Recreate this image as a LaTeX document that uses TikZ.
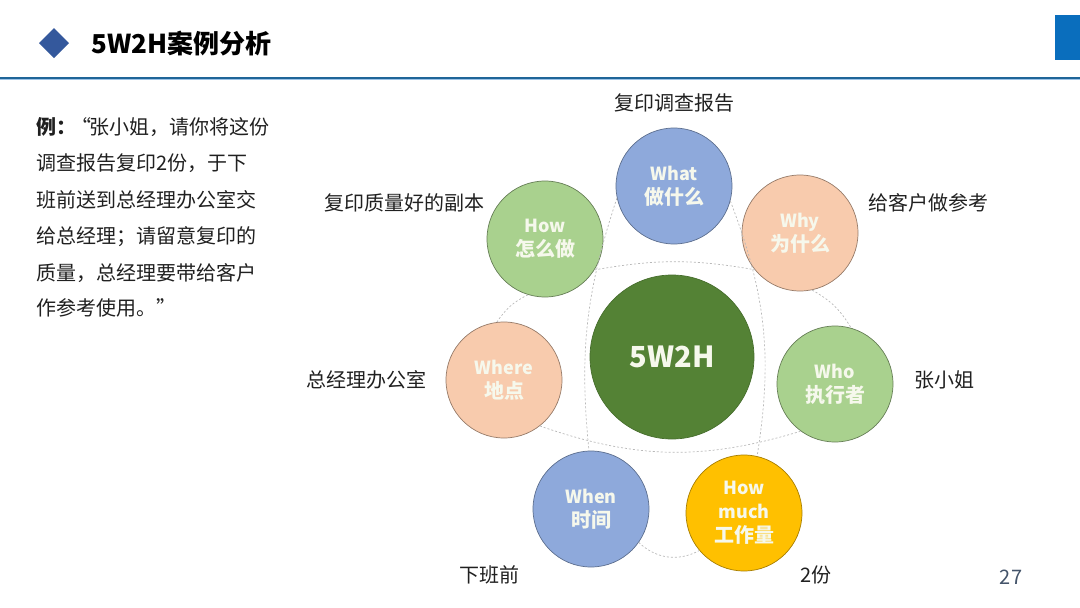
\documentclass[tikz,border=0pt]{standalone}
\usepackage{fontspec}
\setmainfont{Noto Sans CJK SC}
\definecolor{cblue}{HTML}{8EA9DB}
\definecolor{cgreen}{HTML}{A9D18E}
\definecolor{cpeach}{HTML}{F8CBAD}
\definecolor{cgold}{HTML}{FFC000}
\definecolor{cdark}{HTML}{548235}
\definecolor{dia}{HTML}{34589C}
\definecolor{rule}{HTML}{1F6598}
\definecolor{rulelight}{HTML}{9DC3E6}
\definecolor{tab}{HTML}{0A6EBD}
\definecolor{pnum}{HTML}{44546A}
\definecolor{txt}{HTML}{202020}
\definecolor{bubtxt}{HTML}{F6F8EC}
\newcommand\myen{\fontsize{18}{24}\selectfont}
\newcommand\myzh{\fontsize{20}{24}\selectfont}
\begin{document}
\begin{tikzpicture}[x=1pt,y=-1pt,
  bub/.style={circle, minimum size=116pt, inner sep=0pt, align=center, text=bubtxt, font=\bfseries\myen, line width=0.7pt},
  lbl/.style={font=\fontsize{20}{24}\selectfont, text=txt, inner sep=0pt},
  para/.style={font=\fontsize{20}{24}\selectfont, text=txt, inner sep=0pt, anchor=west},
  dasharc/.style={draw=black!28, dash pattern=on 2pt off 2pt, line width=0.7pt}]
\useasboundingbox (0,0) rectangle (1080,608);
% header
\fill[dia] (54,28) -- (69,43) -- (54,58) -- (39,43) -- cycle;
\node[anchor=west, inner sep=0pt, font=\bfseries\fontsize{26}{30}\selectfont, text=black] (title) at (91,44) {5W2H案例分析};
\fill[tab] (1055,15) rectangle (1080,60);
\fill[rule] (0,76.5) rectangle (1080,79);
\fill[rulelight] (0,79) rectangle (1080,80);
% left paragraph
\node[para] (p1) at (36,127) {\textbf{例：}\hspace{-5pt}“\hspace{-2pt}张小姐，请你将这份};
\node[para] (p2) at (36,163) {调查报告复印2份，于下};
\node[para] (p3) at (36,200) {班前送到总经理办公室交};
\node[para] (p4) at (36,237) {给总经理；请留意复印的};
\node[para] (p5) at (36,273) {质量，总经理要带给客户};
\node[para] (p6) at (36,308) {作参考使用。”};
% circles
\node[circle, minimum size=164pt, inner sep=0pt, fill=cdark, draw=cdark!85!black, line width=0.7pt, text=bubtxt, font=\bfseries\fontsize{29}{34}\selectfont] (c) at (672,357) {5W2H};
\node[bub, fill=cblue, draw=cblue!65!black] (what) at (674,186) {What\\\myzh 做什么};
\node[bub, fill=cpeach, draw=cpeach!60!black] (why) at (800,233) {Why\\\myzh 为什么};
\node[bub, fill=cgreen, draw=cgreen!60!black] (who) at (835,384) {Who\\\myzh 执行者};
\node[bub, fill=cgold, draw=cgold!65!black] (howm) at (744,513) {How\\much\\\myzh 工作量};
\node[bub, fill=cblue, draw=cblue!65!black] (when) at (591,509) {When\\\myzh 时间};
\node[bub, fill=cpeach, draw=cpeach!60!black] (where) at (504,380) {Where\\\myzh 地点};
\node[bub, fill=cgreen, draw=cgreen!60!black] (how) at (545,239) {How\\\myzh 怎么做};
% dashed arcs
\draw[dasharc] (how.-32) to[bend left=10] (why.-141);
\draw[dasharc] (where.-52) to[bend right=18] (who.-126);
\draw[dasharc] (what.-168) to[bend right=12] (when.92);
\draw[dasharc] (what.-15) to[bend left=15] (howm.77);
\draw[dasharc] (how.-107) to[bend right=15] (where.97);
\draw[dasharc] (why.-78) to[bend left=15] (who.74);
\draw[dasharc] (when.-35) to[bend right=36] (howm.-140);
% labels
\node[lbl] (lwhat) at (674,103) {复印调查报告};
\node[lbl] (lhow) at (404,203) {复印质量好的副本};
\node[lbl] (lwhy) at (928,203) {给客户做参考};
\node[lbl] (lwhere) at (366,380) {总经理办公室};
\node[lbl] (lwho) at (944,380) {张小姐};
\node[lbl] (lwhen) at (489,575) {下班前};
\node[lbl] (lhowm) at (816,575) {2份};
\node[lbl, text=pnum] (page) at (1011,577) {27};
\end{tikzpicture}
\end{document}
